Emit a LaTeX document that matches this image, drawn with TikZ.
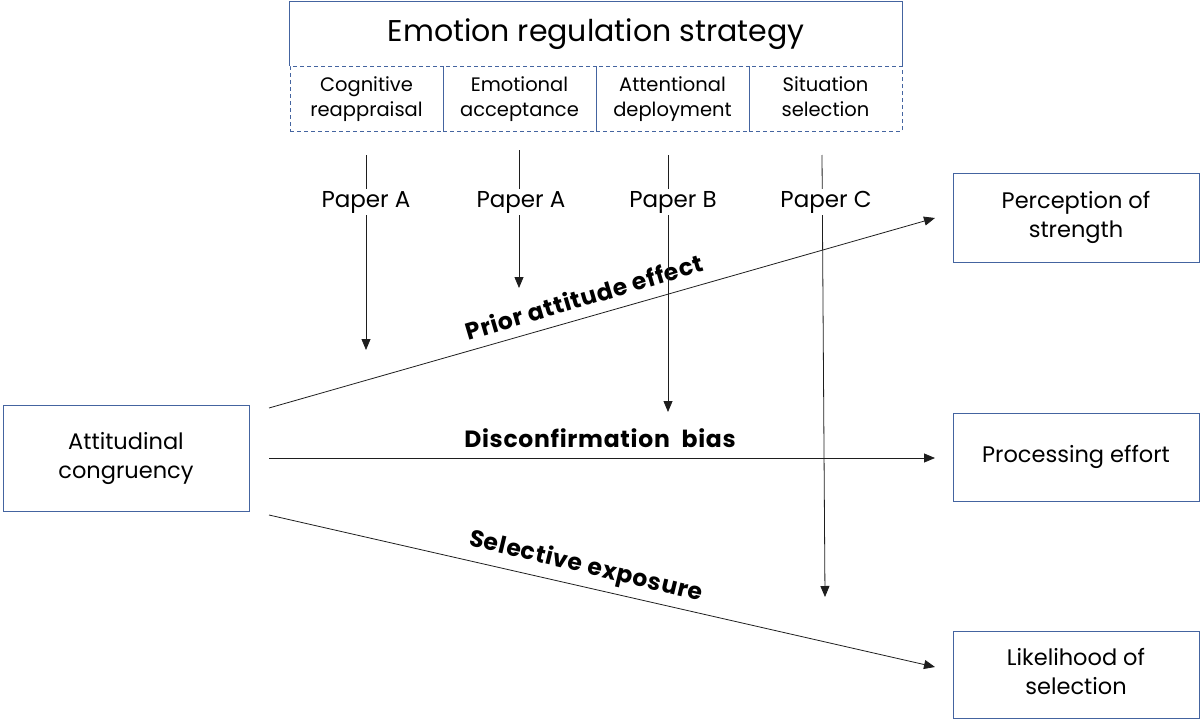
\documentclass[tikz,border=0pt]{standalone}
\usepackage{fontspec}
\setmainfont{Poppins}
\newfontfamily\effectfont[LetterSpace=3]{Poppins}
\usetikzlibrary{arrows.meta}
\definecolor{boxblue}{RGB}{68,100,160}
\definecolor{linegray}{RGB}{30,30,30}
\begin{document}
\begin{tikzpicture}[x=1pt,y=-1pt,
  box/.style={draw=boxblue, line width=0.9pt, minimum width=246pt, align=center, inner sep=0pt, font=\fontsize{22.5}{29}\selectfont},
  cell/.style={draw=boxblue, line width=0.8pt, dash pattern=on 4pt off 3pt, minimum width=153pt, minimum height=65pt, inner sep=0pt, align=center, font=\fontsize{19.5}{25}\selectfont},
  paper/.style={fill=white, inner sep=2pt, font=\fontsize{23}{27}\selectfont},
  effect/.style={font=\effectfont\fontsize{23.5}{28}\selectfont\bfseries},
  arr/.style={-{Triangle[length=11pt,width=9pt]}, line width=0.8pt, draw=linegray},
]
\useasboundingbox (0,0) rectangle (1200,720);
% top box
\node[minimum width=612pt, minimum height=64pt, inner sep=0pt, font=\fontsize{30}{36}\selectfont] (title) at (596,34) {Emotion regulation strategy};
\draw[boxblue, line width=0.9pt] (title.south west) -- (title.north west) -- (title.north east) -- (title.south east);
\node[cell] (c1) at (366.5,98.5) {\strut Cognitive\\\strut reappraisal};
\node[cell] (c2) at (519.5,98.5) {\strut Emotional\\\strut acceptance};
\node[cell] (c3) at (672.5,98.5) {\strut Attentional\\\strut deployment};
\node[cell] (c4) at (825.5,98.5) {\strut Situation\\\strut selection};
% boxes
\node[box, minimum height=106pt] (att) at (126,458) {\strut Attitudinal\\\strut congruency};
\node[box, minimum height=89pt] (per) at (1076,217.5) {\strut Perception of\\\strut strength};
\node[box, minimum height=88pt] (pro) at (1076,457) {Processing effort};
\node[box, minimum height=87pt] (lik) at (1076,674.5) {\strut Likelihood of\\\strut selection};
% coordinates
\coordinate (s1) at (269,408);
\coordinate (e1) at (935,218);
\coordinate (s2) at (269,458);
\coordinate (e2) at (935,458);
\coordinate (s3) at (269,515);
\coordinate (e3) at (935,667);
\draw[arr] (s1) -- (e1);
\draw[arr] (s2) -- (e2);
\draw[arr] (s3) -- (e3);
\node[effect, rotate=16.5] (lp) at (584,297) {Prior attitude effect};
\node[effect] (ld) at (600,438) {Disconfirmation\enspace bias};
\node[effect, rotate=-13.5] (ls) at (586,567) {Selective exposure};
% vertical arrows
\coordinate (v1a) at (366,155); \coordinate (v1b) at (366,350);
\coordinate (v2a) at (519,150); \coordinate (v2b) at (519,288);
\coordinate (v3a) at (668,155); \coordinate (v3b) at (668,412);
\coordinate (v4a) at (822,155); \coordinate (v4b) at (825,597);
\draw[arr] (v1a) -- (v1b);
\draw[arr] (v2a) -- (v2b);
\draw[arr] (v3a) -- (v3b);
\draw[arr] (v4a) -- (v4b);
\node[paper] (p1) at (366,202) {Paper A};
\node[paper] (p2) at (521,202) {Paper A};
\node[paper] (p3) at (673,202) {Paper B};
\node[paper] (p4) at (826,202) {Paper C};
\end{tikzpicture}
\end{document}
